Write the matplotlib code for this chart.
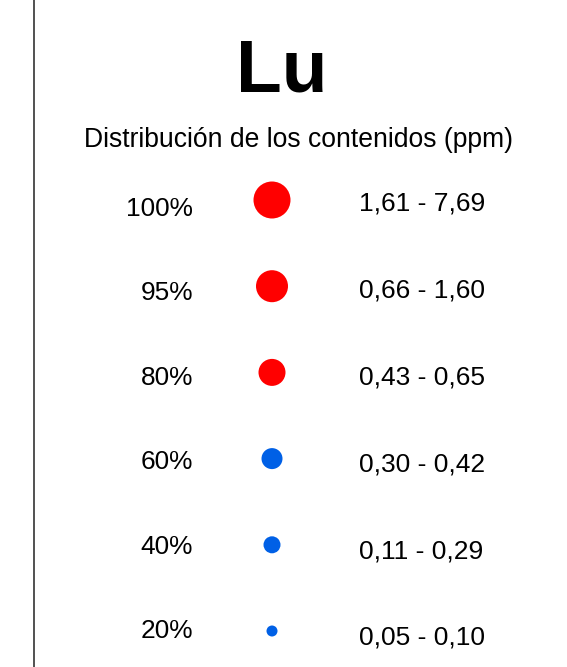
import matplotlib
matplotlib.use("Agg")
import matplotlib.pyplot as plt

plt.rcParams['font.family'] = ['Liberation Sans', 'DejaVu Sans']

# Datos de la leyenda
elemento = "Lu"
subtitulo = "Distribución de los contenidos (ppm)"
percentiles = ["100%", "95%", "80%", "60%", "40%", "20%"]
rangos = ["1,61 - 7,69", "0,66 - 1,60", "0,43 - 0,65",
          "0,30 - 0,42", "0,11 - 0,29", "0,05 - 0,10"]
colores = ["#ff0000", "#ff0000", "#ff0000", "#0060e6", "#0060e6", "#0060e6"]

# Diámetro de los círculos en píxeles
diametros = [37, 32, 27, 21, 17, 11]

fig = plt.figure(figsize=(5.67, 6.67), dpi=100)
ax = fig.add_axes([0, 0, 1, 1])
ax.set_xlim(0, 567)
ax.set_ylim(667, 0)
ax.axis('off')

# Línea vertical a la izquierda
ax.plot([34, 34], [0, 667], color='#333333', linewidth=1.2)

ax.text(282, 91, elemento, ha='center', va='baseline', fontsize=54, fontweight='bold')
ax.text(299, 147, subtitulo, ha='center', va='baseline', fontsize=19.1)

for i, (p, r, c, d) in enumerate(zip(percentiles, rangos, colores, diametros)):
    ax.text(193, 215.5 + 84.6 * i, p, ha='right', va='baseline', fontsize=18.9)
    ax.scatter([272], [200 + 86.2 * i], s=(d * 0.72) ** 2, color=c, edgecolors='none')
    ax.text(359, 211 + 86.8 * i, r, ha='left', va='baseline', fontsize=19)

fig.savefig("out.png", dpi=100)
